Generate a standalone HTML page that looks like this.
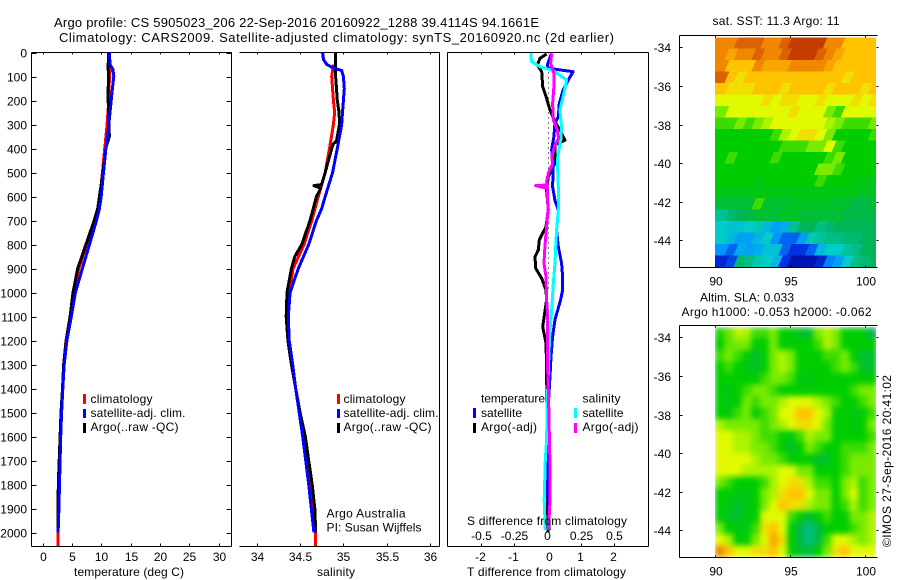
<!DOCTYPE html>
<html lang="en">
<head>
<meta charset="utf-8">
<title>Argo profile 5905023_206</title>
<style>
html,body{margin:0;padding:0;background:#fff;}
svg{display:block;}
text{font-family:"Liberation Sans",sans-serif;font-size:12px;fill:#000;}
text.big{font-size:13px;}
</style>
</head>
<body>
<svg id="fig" xmlns="http://www.w3.org/2000/svg" width="900" height="580" viewBox="0 0 900 580">
  <defs>
    <filter id="smooth" filterUnits="userSpaceOnUse" x="715" y="327" width="161" height="231" color-interpolation-filters="sRGB">
      <feGaussianBlur stdDeviation="3" edgeMode="duplicate"/>
    </filter>
    <clipPath id="slaClip"><rect x="715" y="327" width="161" height="230"/></clipPath>
    <clipPath id="sstClip"><rect x="715" y="37" width="161" height="230"/></clipPath>
  </defs>
  <text class="big" x="54" y="27" textLength="485">Argo profile: CS 5905023_206 22-Sep-2016 20160922_1288 39.4114S 94.1661E</text>
  <text class="big" x="59" y="42" textLength="555">Climatology: CARS2009. Satellite-adjusted climatology: synTS_20160920.nc (2d earlier)</text>

  <g id="marks"></g>

  <text x="74" y="576" textLength="110">temperature (deg C)</text>
  <text x="317" y="576" textLength="38">salinity</text>
  <text x="467" y="576" textLength="159">T difference from climatology</text>
  <text x="467" y="525" textLength="160">S difference from climatology</text>

  <g>
    <rect x="83" y="394" width="3" height="10" fill="#f00"/>
    <text x="90.5" y="403" textLength="62">climatology</text>
    <rect x="83" y="409" width="3" height="9" fill="#00f"/>
    <text x="90.5" y="417" textLength="95">satellite-adj. clim.</text>
    <rect x="83" y="423" width="3" height="10" fill="#000"/>
    <text x="90.5" y="431" textLength="88">Argo(..raw -QC)</text>
  </g>
  <g>
    <rect x="337" y="394" width="3" height="10" fill="#f00"/>
    <text x="343.5" y="403" textLength="62">climatology</text>
    <rect x="337" y="409" width="3" height="9" fill="#00f"/>
    <text x="343.5" y="417" textLength="95">satellite-adj. clim.</text>
    <rect x="337" y="423" width="3" height="10" fill="#000"/>
    <text x="343.5" y="431" textLength="88">Argo(..raw -QC)</text>
  </g>
  <text x="326.5" y="517.5" textLength="79">Argo Australia</text>
  <text x="326.5" y="531.5" textLength="95">PI: Susan Wijffels</text>

  <g>
    <text x="481" y="402.5" textLength="64">temperature</text>
    <rect x="473" y="408" width="3" height="10" fill="#00f"/>
    <text x="481" y="417" textLength="41">satellite</text>
    <rect x="473" y="423" width="3" height="10" fill="#000"/>
    <text x="481" y="431" textLength="56">Argo(-adj)</text>
    <text x="582.5" y="402.5" textLength="38">salinity</text>
    <rect x="574" y="408" width="3" height="10" fill="#0ff"/>
    <text x="582.5" y="417" textLength="41">satellite</text>
    <rect x="574" y="423" width="3" height="10" fill="#f0f"/>
    <text x="582.5" y="431" textLength="56">Argo(-adj)</text>
  </g>

  <text x="712.5" y="25" textLength="127">sat. SST: 11.3 Argo: 11</text>
  <text x="700" y="301.5" textLength="94">Altim. SLA: 0.033</text>
  <text x="681.5" y="316" textLength="190">Argo h1000: -0.053 h2000: -0.062</text>
  <text transform="translate(891,547) rotate(-90)" textLength="172">©IMOS 27-Sep-2016 20:41:02</text>
</svg>

<script>
/* ---------- profile data: temperature (deg C) ---------- */
const tempDepths = [0,50,70,100,150,200,300,350,380,400,500,600,650,700,800,900,1000,1100,1200,1300,1400,1500,1600,1700,1800,1900,2000];
const tempClim = [11.4,11.5,11.5,11.4,11.35,11.3,11.0,10.8,10.7,10.6,10.2,9.8,9.5,9.0,7.5,6.2,5.2,4.7,4.0,3.6,3.4,3.2,3.05,2.9,2.8,2.7,2.6];
const tempClimTailDepths = [2000,2057];
const tempClimTail = [2.6,2.6];
const tempSat = [11.4,11.5,12.0,12.15,11.9,11.7,11.3,11.1,10.9,10.8,10.4,10.0,9.7,9.2,8.0,6.8,5.6,4.9,4.15,3.7,3.45,3.25,3.1,3.0,2.9,2.8,2.65];
const tempArgo = [11.3,11.2,11.2,11.25,11.2,11.2,11.3,11.4,11.0,10.8,10.3,9.7,9.4,8.8,7.4,6.0,5.2,4.7,4.05,3.62,3.4,3.15,3.0,2.85,2.7,2.65,2.6];

/* ---------- profile data: salinity ---------- */
const salClimDepths = [50,100,200,250,300,400,500,600,700,800,900,1000,1100,1200,1300,1400,1500,1600,1700,1800,1900,2000,2057];
const salClim = [34.885,34.865,34.885,34.9,34.885,34.84,34.79,34.71,34.635,34.545,34.42,34.375,34.355,34.365,34.40,34.45,34.49,34.54,34.58,34.615,34.64,34.68,34.68];
const salSatDepths = [0,30,50,65,75,100,150,200,250,300,350,400,500,600,650,700,800,900,1000,1100,1200,1300,1400,1500,1600,1700,1800,1900,2000];
const salSat = [34.76,34.77,34.81,34.885,34.98,35.0,35.01,35.0,34.99,34.98,34.955,34.93,34.875,34.79,34.75,34.69,34.6,34.48,34.385,34.365,34.375,34.415,34.45,34.49,34.53,34.565,34.6,34.63,34.66];
const salArgoDepths = [0,100,150,200,250,300,350,370,380,400,500,550,555,565,600,700,800,850,900,1000,1100,1200,1300,1400,1500,1600,1700,1800,1900,2000];
const salArgo = [34.91,34.91,34.92,34.93,34.95,34.955,34.93,34.92,34.885,34.865,34.79,34.75,34.66,34.74,34.69,34.615,34.52,34.44,34.4,34.35,34.34,34.36,34.40,34.45,34.5,34.56,34.6,34.64,34.67,34.68];

/* ---------- profile data: differences from climatology ---------- */
const diffTArgoDepths = [6,24,52,80,142,191,240,288,323,365,385,462,517,573,656,726,781,823,851,899,941,990,1031,1143,1211,1310,1500,1700,1900,2000];
const diffTArgo = [-0.02,-0.22,-0.3,-0.17,-0.14,-0.02,0.08,0.23,0.38,0.53,0.23,0.23,0.03,-0.02,0.03,-0.04,-0.24,-0.27,-0.37,-0.35,-0.17,-0.04,-0.02,-0.14,-0.04,-0.02,-0.01,0,0,0.02];
const diffTSatDepths = [3,52,66,80,115,156,212,267,295,351,406,462,559,615,656,740,809,878,934,990,1031,1115,1184,1267,1350,1447,1587,1795,1990];
const diffTSat = [0.13,0,0.03,0.78,0.63,0.48,0.36,0.33,0.23,0.2,0.13,0.18,0.16,0.23,0.33,0.28,0.33,0.43,0.46,0.46,0.4,0.23,0.16,0.11,0.08,0.04,0.04,0,0.06];
const diffSSatDepths = [3,38,59,76,115,170,240,309,365,448,559,656,740,809,878,962,1031,1073,1156,1253,1378,1447,1614,1698,1864,1990];
const diffSSat = [-0.125,-0.118,-0.055,0.045,0.145,0.125,0.095,0.108,0.1,0.075,0.083,0.083,0.07,0.063,0.058,0.045,0.038,0.033,0.02,0.013,0.005,0,-0.005,-0.015,-0.023,-0.015];
const diffSArgoDepths = [3,45,87,142,212,281,323,358,385,434,462,503,538,552,555,566,656,726,809,878,934,1031,1073,1281,1447,1587,1726,1864,1948,1990];
const diffSArgo = [0.033,0.025,0.05,0.05,0.04,0.045,0.075,0.085,0.058,0.033,0.04,0.008,-0.005,0,-0.088,0,0.005,-0.005,-0.018,-0.025,-0.01,-0.005,0,0,0.01,0.015,0.02,0.02,0.013,0.008];

/* ---------- tick labels ---------- */
const depthTicks = [0,100,200,300,400,500,600,700,800,900,1000,1100,1200,1300,1400,1500,1600,1700,1800,1900,2000];
const tempTicks = [0,5,10,15,20,25,30];
const salTicks = [34,34.5,35,35.5,36];
const salTickLabels = ['34','34.5','35','35.5','36'];
const diffTTicks = [-2,-1,0,1,2];
const diffSTicks = [-0.5,-0.25,0,0.25,0.5];
const diffSTickLabels = ['-0.5','-0.25','0','0.25','0.5'];
const lonTicks = [90,95,100];
const latTicks = [-34,-36,-38,-40,-42,-44];

/* ---------- map cell values (0 = navy ... 10 = dark orange), rows north to south ---------- */
const sstGrid = [
[9,9,9.5,9.5,9.5,9,9,9.5,10,10,10,10,9,9,8,8,8,8],
[9,8.5,9,9,9.5,9,9,9.5,10,10,10,9.5,9,8.5,8,8,8,8],
[9,8,8,8,9,8.5,8.5,8.5,9,9,9,9,8.5,8,8,8,8,8],
[9.5,8,7.5,8,8,8,8,8,8,8,8,8,8,8,7.5,8,8,8],
[8,7.5,7.5,7.5,8,8,8,7.5,8,8,8,8,7.5,8,8,8,7.5,8],
[7,7,7,7,7,7.5,7,7.5,7.5,7,7,7.5,7,7,7,7.5,7,7.5],
[6,7,7,7,7,7,7,7,7.5,7,7,7,6,5.5,7,7,7,7],
[5.5,5.5,6,5.5,6,6.5,7,7,7,7,7,7,6.5,6,5.5,5.5,5.5,6],
[5,5,5,5,5,5,5.5,6.5,7,7.5,7.5,7,6,5,5,5,5,5.5],
[5,5,5,5,5,5,5,5.5,5.5,5.5,6,6,7,5.5,5,5,5,5],
[5,5.5,5,5,5,5,5.5,5,5,5,5,5,5.5,6,5,5,5,5],
[5,5,5,5,5,5,5,5,5,5,5,6,6,5.5,5,5,5,5],
[5,5,5,5,4.8,5,5,5,5,5,5,5.5,5,5,5,4.8,4.8,4.8],
[4.8,4.8,4.8,4.8,4.8,4.8,4.8,4.8,4.8,4.8,4.8,4.8,4.8,4.8,4.8,4.8,4.6,4.6],
[4.4,4.4,4.4,4.4,5.5,4.5,4.5,4.5,4.6,4.6,4.6,4.6,4.6,4.5,4.5,4.2,4.2,4.4],
[3.5,3.8,4,4.2,4.4,4.4,4.4,4.6,4.6,4.4,4.4,4.4,4.4,4.4,4.2,4.2,4.2,4.2],
[3,2.8,2.8,3,3.2,2.6,2.2,2.4,3.5,4,4,3.6,3.8,4,4,4,4,4],
[3,2.6,2.2,2.2,2.6,3,2,1.5,1.5,2.2,3.2,3.4,3.6,3.6,3.8,3.8,4,4],
[2,1.5,2.4,2.2,2.4,2.8,2.8,1.5,1,1,1.5,2.6,3,3,3.4,3.6,4,4],
[0.8,1.2,3.8,3.6,3.2,3,2.6,1,0.4,0.4,0.4,0.8,1.8,2.2,3,3.6,3.8,4]
];
const slaGrid = [
[5.2,5.8,6.6,6.5,5.5,5.5,6,5,5,4.5,4.5,6,6.5,6,5,5,5,4],
[5,5.8,6,6,5,5,6,5,5,5,5,5.5,6.5,6,5,5,5,5],
[5.5,6,5.5,5,4.5,5,6,6.5,6,5,5,5,5.5,5.5,6,5,4.5,4.5],
[5,5.5,5,4.8,4.5,5,6,6.5,6,5,5,5,5,5.5,6,5.5,4.5,4.5],
[5,5,5,5,5,5.5,6,6,5.5,4.8,4.8,5,5,5,5,5,5,5],
[5,4.8,5,5.5,6,6,5.5,5,5,5,5,5,5,5,5,5.5,6,6],
[5,4.8,5,6,5.5,6,6,6.5,7,7,7,6.5,6,5.5,5,5,5.5,6],
[5,4.8,5.5,6,5,5.5,6,7,7,8,8,7,6.5,5,5,4.8,5,5.5],
[6.5,6,6,6,6,5.5,6,6.5,7,7.5,7.5,7,6,5,5,4.8,5,6],
[7,7,6.5,6.5,6,5.5,5.5,5,4.8,5.5,6.5,6,6,5,5,5,5,5.5],
[7,7,6.5,6.5,6,6,5.5,5,4.5,5,6,5.5,5,5,5.5,5.5,5.5,6],
[7,7,7,7,6.5,6,6,5.5,5,5,5,4.5,4.5,5,5.5,6,6,6],
[7,7,7,6.5,6.5,6.5,6.5,7,7,6,6,5,5,5,5.5,6,6,6],
[6,5.5,5,5,5,5.5,6.5,7,7.5,7.5,6.5,5.5,5.5,5,6,6.5,5.5,6],
[5,5,4.8,4.8,5,6,6.5,7.5,8,8,7,6,6,5,6,7,5.5,6],
[5,4.8,4.5,4.8,5,6,7,8,7.5,7.5,6.5,6,6,5,5.5,6.5,5.5,6],
[5,4.6,4.5,4.8,5,7,7,7,5.5,5,4.4,5,5.5,5,5,6,6,6.5],
[6,5,4.8,4.8,5.5,7.5,8,7,5,4.2,3.6,4.2,5,5,5,5.5,6,6.5],
[7,6.5,5,5,6,7,8.5,7.5,5,4.2,3.6,4.3,5.5,7,7,6.5,6,6.5],
[9,8,7,7,7.5,7.5,8,7,5,4.5,4.4,5,6,7.5,8,7,7,7]
];

/* ---------- axis functions ---------- */
const yDepth = d => 52.5 + d * 0.24;
const xTemp = v => 42.5 + v * 5.87;
const xSal = v => 256.7 + (v - 34) * 86.7;
const xDiffT = v => 547.3 + v * 33.2;
const xDiffS = v => xDiffT(v * 4);
const xLon = v => 715.3 + (v - 90) * 14.94;
const yLatTop = v => 47.3 + (-34 - v) * 19.3;
const yLatBottom = v => 337.3 + (-34 - v) * 19.3;

/* ---------- helpers ---------- */
const NS = 'http://www.w3.org/2000/svg';
const root = document.getElementById('marks');

function addLine(parent, x1, y1, x2, y2, name) {
  const el = document.createElementNS(NS, 'line');
  el.setAttribute('x1', x1);
  el.setAttribute('y1', y1);
  el.setAttribute('x2', x2);
  el.setAttribute('y2', y2);
  el.setAttribute('stroke', '#000');
  el.setAttribute('stroke-width', 1);
  el.setAttribute('shape-rendering', 'crispEdges');
  
  
  parent.appendChild(el);
  return el;
}
function addText(parent, x, y, str, anchor, name) {
  const el = document.createElementNS(NS, 'text');
  el.setAttribute('x', x);
  el.setAttribute('y', y);
  el.setAttribute('text-anchor', anchor);
  el.textContent = str;
  
  
  parent.appendChild(el);
  return el;
}
function addGroup(name) {
  const el = document.createElementNS(NS, 'g');
  
  
  root.appendChild(el);
  return el;
}
function addSeries(parent, depths, values, xFn, colour, width, name) {
  const el = document.createElementNS(NS, 'polyline');
  const pts = depths.map((d, i) => xFn(values[i]).toFixed(1) + ',' + yDepth(d).toFixed(1));
  el.setAttribute('points', pts.join(' '));
  el.setAttribute('fill', 'none');
  el.setAttribute('stroke', colour);
  el.setAttribute('stroke-width', width);
  el.setAttribute('stroke-linejoin', 'round');
  el.setAttribute('shape-rendering', 'crispEdges');
  
  
  parent.appendChild(el);
  return el;
}

/* ---------- colour scale for the maps ---------- */
const colourStops = [[0,0,150],[0,50,225],[0,150,255],[0,205,200],[0,180,90],[0,205,0],[120,235,0],[225,250,0],[255,195,0],[240,135,0],[195,60,0]];
function mapColour(v) {
  const lo = Math.max(0, Math.min(colourStops.length - 2, Math.floor(v)));
  const t = Math.max(0, Math.min(1, v - lo));
  const a = colourStops[lo], b = colourStops[lo + 1];
  return 'rgb(' + a.map((c, i) => Math.round(c + (b[i] - c) * t)).join(',') + ')';
}

/* ---------- profile panels ---------- */
const T = 52.5, B = 546.5;

const p1 = addGroup('temperature-panel');
addLine(p1, 31.5, T, 231.5, T, 'temperature-top-axis');
addLine(p1, 31.5, B, 231.5, B, 'temperature-x-axis');
addLine(p1, 31.5, T, 31.5, B, 'temperature-left-axis');
addLine(p1, 231.5, T, 231.5, B, 'temperature-right-axis');
depthTicks.forEach(d => {
  const y = Math.round(yDepth(d)) + 0.5;
  addLine(p1, 31.5, y, 36.5, y, 'depth-tick-left');
  addLine(p1, 226.5, y, 231.5, y, 'depth-tick-right');
  addText(p1, 27, y + 4, String(d), 'end', 'depth-tick-label');
});
tempTicks.forEach(v => {
  const x = Math.round(xTemp(v)) + 0.5;
  addLine(p1, x, T, x, T + 2, 'temperature-tick-top');
  addLine(p1, x, B - 3, x, B, 'temperature-tick-bottom');
  addText(p1, x, 561, String(v), 'middle', 'temperature-tick-label');
});
addSeries(p1, tempDepths, tempClim, xTemp, '#f00', 3, 'temperature-climatology-line');
addSeries(p1, tempClimTailDepths, tempClimTail, xTemp, '#f00', 3, 'temperature-climatology-tail');
addSeries(p1, tempDepths, tempArgo, xTemp, '#000', 3, 'temperature-argo-line');
addSeries(p1, tempDepths, tempSat, xTemp, '#00f', 3, 'temperature-satellite-line');

const p2 = addGroup('salinity-panel');
addLine(p2, 239.5, T, 439.5, T, 'salinity-top-axis');
addLine(p2, 239.5, B, 439.5, B, 'salinity-x-axis');
addLine(p2, 439.5, T, 439.5, B, 'salinity-right-axis');
salTicks.forEach((v, i) => {
  const x = Math.round(xSal(v)) + 0.5;
  addLine(p2, x, T, x, T + 2, 'salinity-tick-top');
  addLine(p2, x, B - 3, x, B, 'salinity-tick-bottom');
  addText(p2, x, 561, salTickLabels[i], 'middle', 'salinity-tick-label');
});
addSeries(p2, salClimDepths, salClim, xSal, '#f00', 3, 'salinity-climatology-line');
addSeries(p2, salArgoDepths, salArgo, xSal, '#000', 3, 'salinity-argo-line');
addSeries(p2, salSatDepths, salSat, xSal, '#00f', 3, 'salinity-satellite-line');

const p3 = addGroup('difference-panel');
addLine(p3, 447.5, T, 648.5, T, 'difference-top-axis');
addLine(p3, 447.5, B, 648.5, B, 'difference-x-axis');
addLine(p3, 447.5, T, 447.5, B, 'difference-left-axis');
addLine(p3, 648.5, T, 648.5, B, 'difference-right-axis');
diffTTicks.forEach(v => {
  const x = Math.round(xDiffT(v)) + 0.5;
  if (v !== 0) {
    addLine(p3, x, T, x, T + 2, 'difference-tick-top');
    addLine(p3, x, B - 3, x, B, 'difference-tick-bottom');
  }
  addText(p3, x - (v === 0 ? -2 : 1), 561, String(v), 'middle', 'temperature-difference-tick-label');
});
diffSTicks.forEach((v, i) => {
  addText(p3, Math.round(xDiffS(v)) + 0.5, 540, diffSTickLabels[i], 'middle', 'salinity-difference-tick-label');
});
const zeroLine = addLine(p3, xDiffT(0) + 1.2, T, xDiffT(0) + 1.2, yDepth(1000), 'zero-reference-line');
zeroLine.setAttribute('stroke-dasharray', '1 4');
addSeries(p3, diffTArgoDepths, diffTArgo, xDiffT, '#000', 3, 'difference-t-argo-line');
addSeries(p3, diffTSatDepths, diffTSat, xDiffT, '#00f', 3, 'difference-t-satellite-line');
addSeries(p3, diffSSatDepths, diffSSat, xDiffS, '#0ff', 3, 'difference-s-satellite-line');
addSeries(p3, diffSArgoDepths, diffSArgo, xDiffS, '#f0f', 3, 'difference-s-argo-line');

/* ---------- map panels ---------- */
function drawMap(grid, yLat, top, bottom, prefix, smooth, shear, clipId) {
  const g = addGroup(prefix + '-map');
  const clip = document.createElementNS(NS, 'g');
  clip.setAttribute('clip-path', 'url(#' + clipId + ')');
  
  
  g.appendChild(clip);
  let host = clip;
  if (smooth) {
    host = document.createElementNS(NS, 'g');
    host.setAttribute('filter', 'url(#smooth)');
    
    
    clip.appendChild(host);
  }
  const dLon = 0.598, dLat = 0.595, lat0 = -33.48;
  const lastCol = grid[0].length - 1;
  grid.forEach((row, r) => {
    row.forEach((v, c) => {
      const cell = document.createElementNS(NS, 'polygon');
      const x0 = xLon(90 + c * dLon) - (c === 0 ? shear + 1 : 0);
      const x1 = xLon(90 + (c + 1) * dLon) + 0.6 + (c === lastCol ? shear + 1 : 0);
      const y0 = yLat(lat0 - r * dLat);
      const y1 = yLat(lat0 - (r + 1) * dLat) + 0.6;
      const corners = [[x0 + shear, y0], [x1 + shear, y0], [x1, y1], [x0, y1]];
      cell.setAttribute('points', corners.map(p => p[0].toFixed(1) + ',' + p[1].toFixed(1)).join(' '));
      cell.setAttribute('fill', mapColour(v));
      cell.setAttribute('shape-rendering', 'crispEdges');
      
      
      host.appendChild(cell);
    });
  });
  addLine(g, 679.5, top, 877.5, top, prefix + '-top-axis');
  addLine(g, 679.5, bottom, 877.5, bottom, prefix + '-x-axis');
  addLine(g, 679.5, top, 679.5, bottom, prefix + '-left-axis');
  lonTicks.forEach(v => {
    const x = Math.round(xLon(v)) + 0.5;
    addLine(g, x, top, x, top + 2, prefix + '-lon-tick-top');
    addLine(g, x, bottom - 2, x, bottom, prefix + '-lon-tick-bottom');
    addText(g, x + 0.5, bottom + 18, String(v), 'middle', prefix + '-lon-tick-label');
  });
  latTicks.forEach(v => {
    const y = Math.round(yLat(v)) + 0.5;
    addLine(g, 679.5, y, 682.5, y, prefix + '-lat-tick-left');
    addLine(g, 876.5, y, 878.5, y, prefix + '-lat-tick-right');
    addText(g, 671, y + 4.5, String(v), 'end', prefix + '-lat-tick-label');
  });
}
drawMap(sstGrid, yLatTop, 35.5, 267.5, 'sst', false, 5, 'sstClip');
drawMap(slaGrid, yLatBottom, 325.5, 557.5, 'sla', true, 0, 'slaClip');
</script>
</body>
</html>
